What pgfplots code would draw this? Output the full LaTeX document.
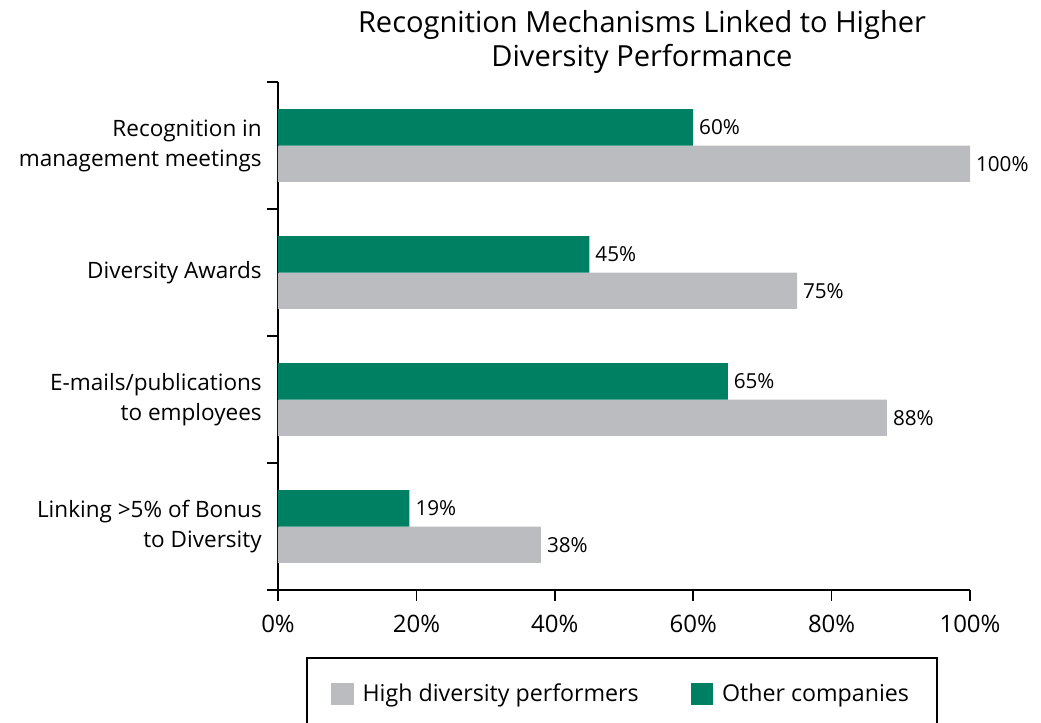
\documentclass[border=0pt]{standalone}
\usepackage{fontspec}
\setmainfont{Open Sans}
\usepackage{pgfplots}
\pgfplotsset{compat=1.18}
\definecolor{hdgreen}{RGB}{0,128,98}
\definecolor{hdgray}{RGB}{187,188,192}
\begin{document}
\begin{tikzpicture}
\begin{axis}[
    at={(0,0)}, anchor=south west,
    scale only axis,
    width=519pt, height=381pt,
    clip=false,
    xbar,
    xmin=0, xmax=100,
    ymin=-0.5, ymax=3.5,
    axis x line*=bottom, axis y line*=left,
    axis line style={line width=1.2pt, -},
    tick style={line width=1.2pt, black},
    tick align=outside,
    major tick length=8pt,
    xtick={0,20,40,60,80,100},
    xticklabel={\pgfmathprintnumber{\tick}\%},
    xticklabel style={font=\fontsize{18}{21}\selectfont, yshift=-7.5pt},
    ytick={-0.5,0.5,1.5,2.5,3.5},
    yticklabels={},
    extra y ticks={0,1,2,3},
    extra y tick labels={{Linking >5\% of Bonus\\to Diversity},{E-mails/publications\\to employees},{Diversity Awards},{Recognition in\\management meetings}},
    extra y tick style={major tick length=0pt, yticklabel style={align=right, inner sep=0pt, xshift=-12pt, font=\fontsize{16.9}{22.5}\selectfont}},
    /pgf/number format/assume math mode=true,
    bar width=0.287,
    nodes near coords={\pgfmathprintnumber{\pgfplotspointmeta}\%},
    every node near coord/.append style={font=\fontsize{15.5}{18}\selectfont, anchor=west, xshift=1pt},
    title={Recognition Mechanisms Linked to Higher\\Diversity Performance},
    title style={at={(0.526,1.063)}, anchor=center, align=center, font=\fontsize{21.8}{25.5}\selectfont},
    legend columns=2,
    legend style={at={(0.0766,-0.2047)}, anchor=west, draw=none, fill=none,
        font=\fontsize{17.4}{20}\selectfont, inner xsep=0pt,
        /tikz/every even column/.append style={column sep=37pt}},
    legend image code/.code={\fill[#1, draw=none] (0pt,-8.5pt) rectangle (17pt,8.5pt); \path (21.5pt,0pt);},
]
\addplot[fill=hdgray, draw=none, bar shift=-0.1435] coordinates {(38,0) (88,1) (75,2) (100,3)};
\addlegendentry{High diversity performers}
\addplot[fill=hdgreen, draw=none, bar shift=0.1435] coordinates {(19,0) (65,1) (45,2) (60,3)};
\addlegendentry{Other companies}
\draw[line width=0.8pt] (rel axis cs:0.0419,-0.4) -- (rel axis cs:0.0419,-0.1339) -- (rel axis cs:0.9523,-0.1339) -- (rel axis cs:0.9523,-0.4);
\end{axis}
\pgfresetboundingbox
\path[use as bounding box] (-208.5pt,-99pt) rectangle (572.25pt,442.5pt);
\end{tikzpicture}
\end{document}
